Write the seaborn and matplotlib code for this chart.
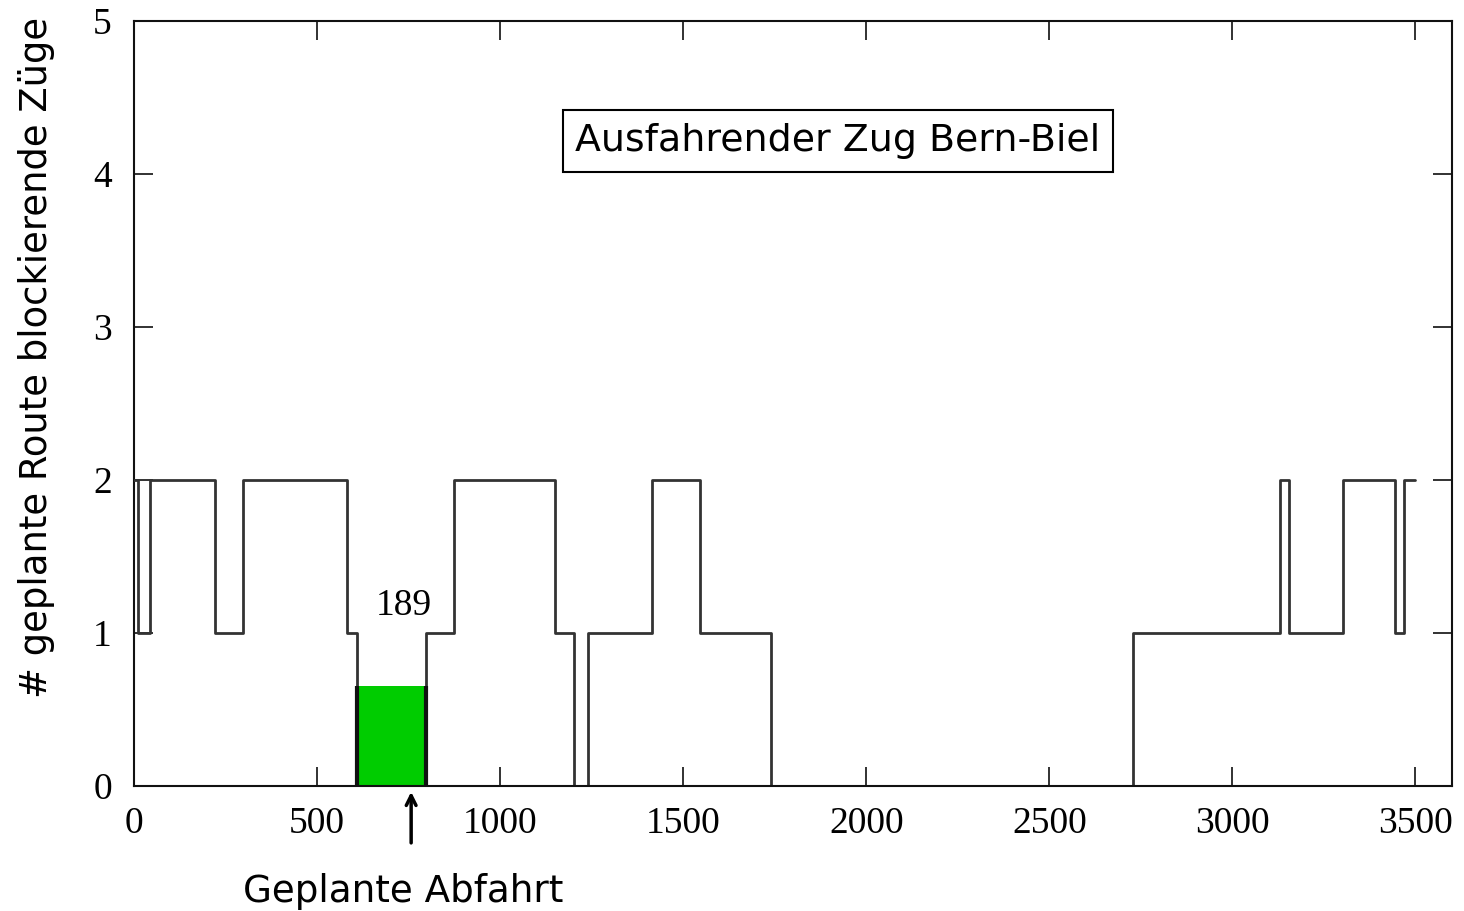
import matplotlib
matplotlib.use("Agg")
import matplotlib.pyplot as plt
import seaborn as sns
import pandas as pd

# --- data ---
step_x = [0, 12, 44, 220, 297, 582, 609, 798, 875, 1151, 1203, 1241, 1414,
          1545, 1739, 2730, 3130, 3155, 3302, 3444, 3469, 3499]
step_y = [2, 1, 2, 1, 2, 1, 0, 1, 2, 1, 0, 1, 2,
          1, 0, 1, 2, 1, 2, 1, 2, 2]
bar_start = 609
bar_end = 798
bar_height = 0.654
bar_label = "189"
x_ticks = [0, 500, 1000, 1500, 2000, 2500, 3000, 3500]
y_ticks = [0, 1, 2, 3, 4, 5]
departure_x = 757
title_text = "Ausfahrender Zug Bern-Biel"
ylabel_text = "# geplante Route blockierende Züge"
xnote_text = "Geplante Abfahrt"

df = pd.DataFrame({"t": step_x, "n": step_y})

sns.set_style("white")
plt.rcParams["font.family"] = ["DejaVu Sans"]
plt.rcParams["text.color"] = "black"
plt.rcParams["xtick.color"] = "black"
plt.rcParams["ytick.color"] = "black"

W, H = 1464, 911
fig = plt.figure(figsize=(W / 100, H / 100), dpi=100)
ax = fig.add_axes([134 / W, 1 - 786 / H, (1452 - 134) / W, (786 - 21) / H])

ax.bar([bar_start], [bar_height], width=bar_end - bar_start, align="edge",
       color="#00cc00", edgecolor="none", linewidth=0, zorder=2)
sns.lineplot(data=df, x="t", y="n", ax=ax, drawstyle="steps-post",
             color="#333333", linewidth=2.0, zorder=3, estimator=None,
             sort=False)
# darker outline on the sides of the highlighted bar
ax.vlines([bar_start, bar_end], 0, bar_height, colors="#111111",
          linewidth=3, zorder=4)

ax.set_xlim(0, 3600)
ax.set_ylim(0, 5)
ax.set_xticks(x_ticks)
ax.set_yticks(y_ticks)
ax.set_xlabel("")
ax.set_ylabel("")
for s in ax.spines.values():
    s.set_color("#111111")
    s.set_linewidth(1.5)
ax.spines["bottom"].set_zorder(5)
ax.tick_params(direction="in", length=14, width=1.3, color="#222222",
               labelcolor="black",
               top=True, right=True, bottom=True, left=True,
               labelsize=27)
for lab in ax.get_xticklabels() + ax.get_yticklabels():
    lab.set_family("Liberation Serif")
ax.tick_params(axis="x", pad=15)
ax.tick_params(axis="y", pad=16)

ax.text(738, 1.18, bar_label, ha="center", va="center",
        fontsize=27, family="Liberation Serif", zorder=4)

ax.text(1923, 4.216, title_text, ha="center", va="center", fontsize=27.3,
        bbox=dict(boxstyle="square,pad=0.34", facecolor="white",
                  edgecolor="black", linewidth=1.5), zorder=5)

ax.annotate("", xy=(departure_x, -0.02), xytext=(departure_x, -0.39),
            xycoords="data", textcoords="data", annotation_clip=False,
            arrowprops=dict(arrowstyle="->,head_length=0.7,head_width=0.35",
                            color="black", linewidth=2.5))

fig.text(403.5 / W, 1 - 891 / H, xnote_text, ha="center", va="center",
         fontsize=26.8)
fig.text(37 / W, 1 - 357 / H, ylabel_text, ha="center", va="center",
         rotation=90, fontsize=26.6)

fig.savefig("out.png", dpi=100)
